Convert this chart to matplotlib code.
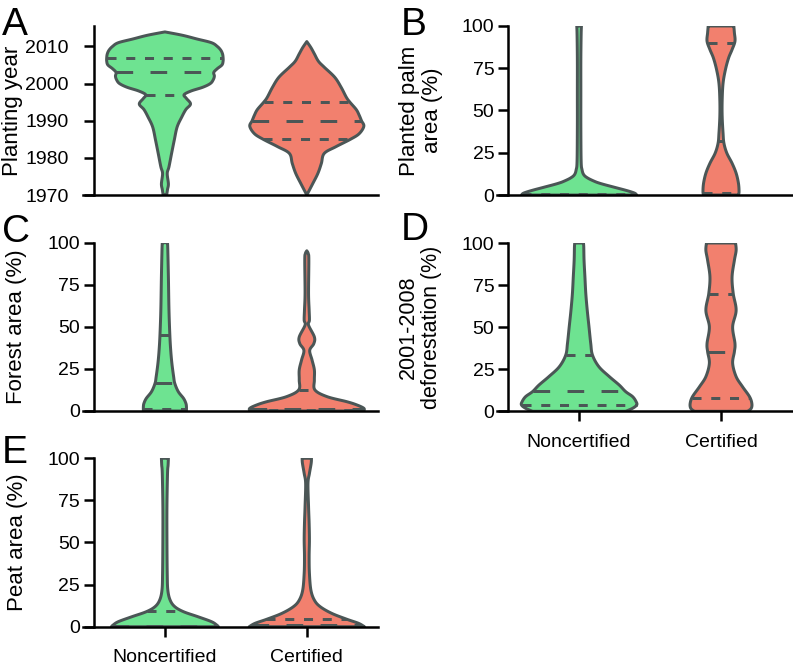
import numpy as np
import matplotlib
matplotlib.use("Agg")
import matplotlib.pyplot as plt

plt.rcParams['font.family'] = ['Liberation Sans', 'DejaVu Sans']
plt.rcParams['lines.scale_dashes'] = False

# ---------------- data ----------------
groups = ["Noncertified", "Certified"]
panel_letters = ["A", "B", "C", "D", "E"]
ylabels = ["Planting year", "Planted palm\narea (%)", "Forest area (%)",
           "2001-2008\ndeforestation (%)", "Peat area (%)"]
year_ticks = [1970, 1980, 1990, 2000, 2010]
pct_ticks = [0, 25, 50, 75, 100]

# violin outlines: value levels and relative half-widths (1 = widest)
A_non_y = [1970, 1971.5, 1973, 1975.8, 1977.6, 1981.2, 1984.7, 1988.3, 1991, 1993, 1994.5, 1996, 1997,
           1998, 1999, 2000, 2001, 2002, 2003, 2004, 2005, 2006, 2007, 2008, 2009, 2010, 2011, 2012,
           2013, 2013.9]
A_non_w = [0.03, 0.045, 0.06, 0.04, 0.07, 0.115, 0.16, 0.21, 0.29, 0.36, 0.44, 0.37, 0.33,
           0.45, 0.65, 0.78, 0.83, 0.85, 0.84, 0.9, 0.98, 1.0, 1.0, 0.99, 0.96, 0.9, 0.8, 0.55,
           0.3, 0.0]
A_non_q = [1997, 2003, 2007]
A_cer_y = [1970, 1973, 1975.8, 1978.5, 1981.2, 1983, 1985, 1986.5, 1988.5, 1990, 1991.5, 1993, 1995,
           1996.3, 1999, 2001.7, 2004.4, 2006, 2008, 2009.7, 2011.3]
A_cer_w = [0.0, 0.1, 0.19, 0.25, 0.3, 0.5, 0.75, 0.9, 0.98, 0.94, 0.9, 0.85, 0.74,
           0.68, 0.59, 0.48, 0.3, 0.2, 0.13, 0.07, 0.0]
A_cer_q = [1985, 1990, 1995]

B_non_y = [0, 1, 2, 3, 4, 5, 6, 7, 8, 10, 12, 15, 20, 40, 60, 80, 95, 100]
B_non_w = [0.99, 0.96, 0.88, 0.78, 0.67, 0.56, 0.45, 0.35, 0.27, 0.15, 0.08, 0.05, 0.035, 0.03,
           0.03, 0.03, 0.035, 0.04]
B_non_q = [0, 0, 0.5]
B_cer_y = [0, 2, 6.9, 12.9, 18.8, 24.8, 30.7, 36.6, 46.5, 56, 66, 74, 81, 86, 91, 96, 100]
B_cer_w = [0.3, 0.31, 0.3, 0.26, 0.19, 0.1, 0.05, 0.035, 0.02, 0.02, 0.035, 0.075, 0.13, 0.19,
           0.24, 0.23, 0.22]
B_cer_q = [1, 32, 90]

C_non_y = [0, 2.6, 4.6, 7.5, 11.5, 16.4, 20.4, 28.3, 36, 45, 60, 79.8, 95.6, 100]
C_non_w = [0.37, 0.37, 0.36, 0.32, 0.23, 0.17, 0.15, 0.12, 0.1, 0.085, 0.07, 0.06, 0.05, 0.045]
C_non_q = [1.2, 16.4, 45.3]
C_cer_y = [0, 1.6, 3.6, 5.5, 8.5, 12.5, 18.4, 24.4, 30.3, 36, 40, 44, 51, 54, 60, 70, 89.7,
           93.5, 95.2]
C_cer_w = [0.98, 0.98, 0.86, 0.69, 0.35, 0.14, 0.13, 0.13, 0.09, 0.05, 0.12, 0.13, 0.03, 0.045,
           0.04, 0.03, 0.035, 0.025, 0.0]
C_cer_q = [0.3, 1.3, 12.5]

D_non_y = [0, 1.8, 3.75, 5.7, 8.7, 11.7, 15.6, 20.6, 26.5, 33.4, 40.3, 50.2, 60, 70, 79.8, 89.7,
           97.6, 100]
D_non_w = [0.8, 0.92, 0.99, 0.98, 0.92, 0.8, 0.69, 0.52, 0.34, 0.23, 0.2, 0.17, 0.14, 0.115, 0.1,
           0.085, 0.08, 0.075]
D_non_q = [3.7, 12, 33.4]
D_cer_y = [0, 1.8, 4.7, 8.7, 14.6, 20.6, 28.5, 35.4, 40.3, 50.2, 60, 70, 79.8, 89.7, 95.6, 100]
D_cer_w = [0.46, 0.52, 0.53, 0.49, 0.37, 0.26, 0.2, 0.23, 0.24, 0.2, 0.26, 0.21, 0.19, 0.23,
           0.26, 0.25]
D_cer_q = [8, 35, 69.5]

E_non_y = [0, 1, 3, 5.9, 8.9, 11.9, 15.8, 21.8, 31.7, 51.5, 71.3, 91, 96, 100]
E_non_w = [0.92, 0.89, 0.8, 0.57, 0.32, 0.17, 0.09, 0.05, 0.04, 0.035, 0.035, 0.045, 0.055, 0.06]
E_non_q = [0, 0.5, 9.3]
E_cer_y = [0, 2, 4.4, 7.9, 11.9, 15.8, 21.8, 31.7, 41.6, 51.5, 61.4, 71.3, 85, 91, 97, 100]
E_cer_w = [0.99, 0.89, 0.69, 0.43, 0.23, 0.13, 0.07, 0.045, 0.04, 0.045, 0.04, 0.03, 0.02,
           0.045, 0.075, 0.08]
E_cer_q = [0, 1, 4.3]

# ---------------- style ----------------
GREEN = "#6ee391"
SALMON = "#f2806e"
EDGE = "#4b5656"
HALF = 0.41
LW = 2.15

def smooth(y, w, n=12):
    P = np.column_stack([y, w]).astype(float)
    P = np.vstack([P[0], P, P[-1]])
    out = []
    t = np.linspace(0, 1, n, endpoint=False)[:, None]
    for i in range(1, len(P) - 2):
        p0, p1, p2, p3 = P[i - 1], P[i], P[i + 1], P[i + 2]
        pts = 0.5 * (2 * p1 + (-p0 + p2) * t + (2 * p0 - 5 * p1 + 4 * p2 - p3) * t ** 2
                     + (-p0 + 3 * p1 - 3 * p2 + p3) * t ** 3)
        out.append(pts)
    out.append(P[-2][None, :])
    S = np.vstack(out)
    S[:, 1] = np.clip(S[:, 1], 0, None)
    return S[:, 0], S[:, 1]

def violin(ax, pos, y, w, q, color):
    sy, sw = smooth(y, w)
    hw = sw * HALF
    xs = np.concatenate([pos + hw, (pos - hw)[::-1]])
    ys = np.concatenate([sy, sy[::-1]])
    ax.fill(xs, ys, facecolor=color, edgecolor=EDGE, lw=LW, zorder=2, joinstyle='round')
    for k, qv in enumerate(q):
        h = np.interp(qv, y, w) * HALF
        dash = (12, 12.5) if k == 1 else (6.5, 7)
        ax.plot([pos - h, pos + h], [qv, qv], color=EDGE, lw=LW, dashes=dash,
                zorder=3, solid_capstyle='butt', dash_capstyle='butt')

fig = plt.figure(figsize=(7.93, 6.66), dpi=100)
Wd = 0.3722
L1 = 82.6 / 793
L2 = 496.8 / 793
rects = [
    [L1, 0.7072, Wd, 0.2538],
    [L2, 0.7072, Wd, 0.2538],
    [L1, 0.3829, Wd, 0.2527],
    [L2, 1 - 411.3 / 666, Wd, 0.2527],
    [L1, 0.059, Wd, 0.2529],
]
panel_data = [
    (A_non_y, A_non_w, A_non_q, A_cer_y, A_cer_w, A_cer_q),
    (B_non_y, B_non_w, B_non_q, B_cer_y, B_cer_w, B_cer_q),
    (C_non_y, C_non_w, C_non_q, C_cer_y, C_cer_w, C_cer_q),
    (D_non_y, D_non_w, D_non_q, D_cer_y, D_cer_w, D_cer_q),
    (E_non_y, E_non_w, E_non_q, E_cer_y, E_cer_w, E_cer_q),
]
label_x = [-0.202, -0.182, -0.188, -0.186, -0.185]
label_fs = [16, 16, 16, 15.5, 16]
letter_pos = [(2, 35), (401, 35), (2, 242), (401, 240), (2, 463)]

for i, (rect, pdat) in enumerate(zip(rects, panel_data)):
    ax = fig.add_axes(rect)
    ny, nw, nq, cy, cw, cq = pdat
    violin(ax, 0, ny, nw, nq, GREEN)
    violin(ax, 1, cy, cw, cq, SALMON)
    ax.set_xlim(-0.58, 1.5)
    if i == 0:
        ax.set_ylim(1970, 2015.5)
        ax.set_yticks(year_ticks)
        pad = 10.5
    else:
        ax.set_ylim(0, 100)
        ax.set_yticks(pct_ticks)
        pad = 2.5
    for s in ['top', 'right']:
        ax.spines[s].set_visible(False)
    ax.spines['left'].set_position(('data', -0.5))
    for s in ['left', 'bottom']:
        ax.spines[s].set_linewidth(1.8)
        ax.spines[s].set_zorder(4)
    ax.tick_params(axis='y', length=7.5, width=1.8, pad=pad, labelsize=14)
    ax.set_xticks([0, 1])
    if i in (3, 4):
        ax.set_xticklabels(groups)
        ax.tick_params(axis='x', length=7.5, width=1.8, pad=8.5, labelsize=14)
    else:
        ax.tick_params(axis='x', bottom=False, labelbottom=False)
    ax.set_ylabel(ylabels[i], fontsize=label_fs[i], linespacing=1.1)
    ax.yaxis.set_label_coords(label_x[i], 0.5)
    lx, ly = letter_pos[i]
    fig.text(lx / 793, 1 - ly / 666, panel_letters[i], fontsize=28, ha='left', va='baseline')

fig.savefig("out.png", dpi=100)
